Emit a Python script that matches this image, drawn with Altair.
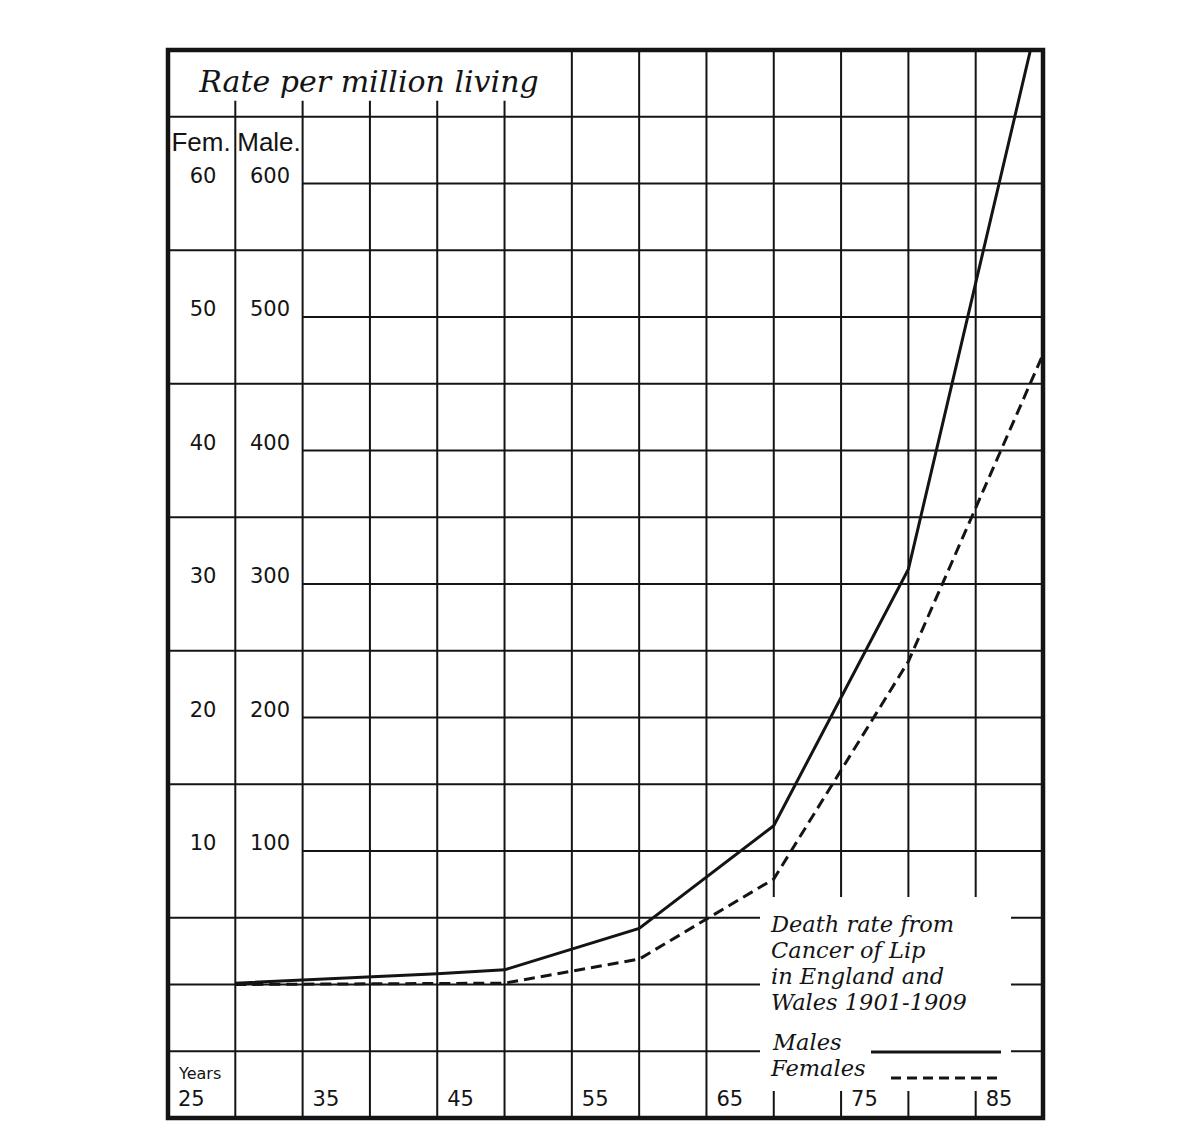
import altair as alt
import pandas as pd

# ---- data ----
ages_male = [30, 45, 50, 60, 70, 80, 90]
rate_male = [1, 8, 11, 42, 119, 311, 740]          # per million (male scale)
ages_female = [30, 50, 60, 70, 80, 90]
rate_female = [0.0, 0.1, 1.9, 7.9, 24.2, 47.2]     # per million (female scale)

male_ticks = [100, 200, 300, 400, 500, 600]
female_ticks = [10, 20, 30, 40, 50, 60]
year_labels = [25, 35, 45, 55, 65, 75, 85]
grid_ages = [30, 35, 40, 45, 50, 55, 60, 65, 70, 75, 80, 85]
grid_rates = [-50, 0, 50, 100, 150, 200, 250, 300, 350, 400, 450, 500, 550, 600, 650]

title_text = "Rate per million living"
legend_lines = ["Death rate from", "Cancer of Lip", "in England and", "Wales 1901-1909"]

# ---- layout ----
W, H = 875, 1068
X = alt.Scale(domain=[25, 90], nice=False, zero=False)
Y = alt.Scale(domain=[-100, 700], nice=False, zero=False)
INK = "#141414"
SCRIPT = "DejaVu Serif"
HAND = "DejaVu Sans"
NARROW = "Liberation Sans"

# grid
vdf = pd.DataFrame({
    "a": grid_ages,
    "y0": [-100] * len(grid_ages),
    "y1": [662 if a <= 50 else 700 for a in grid_ages],
})
hdf = pd.DataFrame({
    "r": grid_rates,
    "x0": [35 if r in male_ticks else 25 for r in grid_rates],
    "x1": [90] * len(grid_rates),
})
vgrid = alt.Chart(vdf).mark_rule(color=INK, strokeWidth=2).encode(
    x=alt.X("a:Q", scale=X, axis=None),
    y=alt.Y("y0:Q", scale=Y, axis=None),
    y2="y1:Q",
)
hgrid = alt.Chart(hdf).mark_rule(color=INK, strokeWidth=2).encode(
    x=alt.X("x0:Q", scale=X, axis=None),
    x2="x1:Q",
    y=alt.Y("r:Q", scale=Y, axis=None),
)

# white box behind the legend text
legend_box = alt.Chart(pd.DataFrame({"k": [0]})).mark_rect(color="white").encode(
    x=alt.value(592), x2=alt.value(843), y=alt.value(847), y2=alt.value(1041)
)

# data lines
mdf = pd.DataFrame({"age": ages_male, "rate": rate_male})
fdf = pd.DataFrame({"age": ages_female, "rate": rate_female})
male_line = alt.Chart(mdf).mark_line(color=INK, strokeWidth=3, clip=True).encode(
    x=alt.X("age:Q", scale=X, axis=None),
    y=alt.Y("rate:Q", scale=Y, axis=None),
)
female_line = alt.Chart(fdf).transform_calculate(scaled="datum.rate * 10").mark_line(
    color=INK, strokeWidth=3, strokeDash=[11, 6], clip=True
).encode(
    x=alt.X("age:Q", scale=X, axis=None),
    y=alt.Y("scaled:Q", scale=Y, axis=None),
)

# axis labels
mt = pd.DataFrame({"rate": male_ticks, "lab": [str(v) for v in male_ticks]})
ft = pd.DataFrame({"rate": male_ticks, "lab": [str(v) for v in female_ticks]})
male_lab = alt.Chart(mt).mark_text(font=HAND, fontSize=21, align="center",
                                   baseline="alphabetic", dy=-1, color=INK).encode(
    x=alt.value(102), y=alt.Y("rate:Q", scale=Y, axis=None), text="lab:N")
fem_lab = alt.Chart(ft).mark_text(font=HAND, fontSize=21, align="center",
                                  baseline="alphabetic", dy=-1, color=INK).encode(
    x=alt.value(35), y=alt.Y("rate:Q", scale=Y, axis=None), text="lab:N")

yl = pd.DataFrame({"age": year_labels, "lab": [str(v) for v in year_labels]})
year_lab = alt.Chart(yl).mark_text(font=HAND, fontSize=21, align="left",
                                   baseline="alphabetic", dx=10, color=INK).encode(
    x=alt.X("age:Q", scale=X, axis=None), y=alt.value(1056), text="lab:N")

years_word = alt.Chart(pd.DataFrame({"t": ["Years"]})).mark_text(
    font=HAND, fontSize=16, align="left", baseline="alphabetic", color=INK
).encode(x=alt.value(11), y=alt.value(1029), text="t:N")

title = alt.Chart(pd.DataFrame({"t": [title_text]})).mark_text(
    font=SCRIPT, fontStyle="italic", fontSize=30, align="center",
    baseline="alphabetic", color=INK
).encode(x=alt.value(201), y=alt.value(42), text="t:N")

fem_head = alt.Chart(pd.DataFrame({"t": ["Fem."]})).mark_text(
    font=NARROW, fontSize=26, align="center", baseline="alphabetic", color=INK
).encode(x=alt.value(33), y=alt.value(101), text="t:N")
male_head = alt.Chart(pd.DataFrame({"t": ["Male."]})).mark_text(
    font=NARROW, fontSize=26, align="center", baseline="alphabetic", color=INK
).encode(x=alt.value(101), y=alt.value(101), text="t:N")

# legend
ldf = pd.DataFrame({"t": legend_lines, "yy": [882, 908, 934, 960]})
legend_text = alt.Chart(ldf).mark_text(
    font=SCRIPT, fontStyle="italic", fontSize=22.5, align="left",
    baseline="alphabetic", color=INK
).encode(x=alt.value(603), y=alt.Y("yy:Q", scale=None), text="t:N")

males_word = alt.Chart(pd.DataFrame({"t": ["Males"]})).mark_text(
    font=SCRIPT, fontStyle="italic", fontSize=22.5, align="left",
    baseline="alphabetic", color=INK
).encode(x=alt.value(605), y=alt.value(1000), text="t:N")
females_word = alt.Chart(pd.DataFrame({"t": ["Females"]})).mark_text(
    font=SCRIPT, fontStyle="italic", fontSize=22.5, align="left",
    baseline="alphabetic", color=INK
).encode(x=alt.value(603), y=alt.value(1026), text="t:N")

male_key = alt.Chart(pd.DataFrame({"k": [0]})).mark_rule(color=INK, strokeWidth=3).encode(
    x=alt.value(703), x2=alt.value(833), y=alt.value(1002))
female_key = alt.Chart(pd.DataFrame({"k": [0]})).mark_rule(
    color=INK, strokeWidth=3, strokeDash=[10, 6]).encode(
    x=alt.value(723), x2=alt.value(830), y=alt.value(1028))

chart = alt.layer(
    vgrid, hgrid, legend_box, female_line, male_line,
    male_lab, fem_lab, year_lab, years_word, title, fem_head, male_head,
    legend_text, males_word, females_word, male_key, female_key,
).properties(
    width=W, height=H,
    padding={"left": 159, "top": 41, "right": 5, "bottom": 5},
    background="white",
).configure_view(stroke=INK, strokeWidth=4.5)

chart.save("out.html", embed_options={"renderer": "svg", "actions": False})
